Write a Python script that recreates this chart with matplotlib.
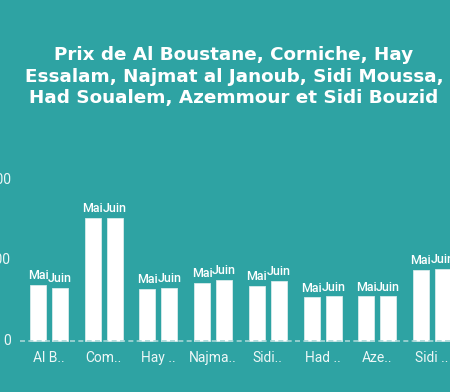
import matplotlib
matplotlib.use("Agg")
import matplotlib.pyplot as plt
import matplotlib.transforms as mtrans
import numpy as np

categories = ["Al B..", "Com..", "Hay ..", "Najma..", "Sidi..", "Had ..", "Aze..", "Sidi .."]
series_names = ["Mai", "Juin"]
mai = [700, 1528, 650, 724, 683, 543, 555, 882]
juin = [662, 1528, 658, 758, 749, 555, 553, 894]
yticks = [0, 1000, 2000]
ytick_labels = ["0", "1000", "2000"]
title_lines = ["Prix de Al Boustane, Corniche, Hay",
               "Essalam, Najmat al Janoub, Sidi Moussa,",
               "Had Soualem, Azemmour et Sidi Bouzid"]

BG = "#2EA3A3"
W, H = 450, 392
fig = plt.figure(figsize=(W / 100, H / 100), dpi=100, facecolor=BG)

# axes from zero line (y px 341) up to y px 160
top_px, zero_px = 160, 341
ax = fig.add_axes([0, (H - zero_px) / H, 1, (zero_px - top_px) / H])
ax.set_facecolor(BG)
for s in ax.spines.values():
    s.set_visible(False)

px_per_group = 54.7
x0 = 49.0
ax.set_xlim((0 - x0) / px_per_group, (W - x0) / px_per_group)
units_per_px = 1000 / 80.5
ax.set_ylim(0, (zero_px - top_px) * units_per_px)

x = np.arange(len(categories))
bw = 16 / px_per_group
off = 11 / px_per_group
b1 = ax.bar(x - off, mai, width=bw, color="white", edgecolor="#d8ecec", linewidth=0.6, clip_on=False)
b2 = ax.bar(x + off, juin, width=bw, color="white", edgecolor="#d8ecec", linewidth=0.6, clip_on=False)

for bars, name in ((b1, series_names[0]), (b2, series_names[1])):
    for r in bars:
        ax.annotate(name, (r.get_x() + r.get_width() / 2, r.get_height()),
                    xytext=(0, 2), textcoords="offset points", ha="center", va="bottom",
                    color="white", fontsize=9, fontweight="medium", family="Roboto")

# zero dashed line
ax.axhline(0, xmin=20 / W, xmax=1, color="#a6d6d6", linestyle=(0, (3, 2)),
           linewidth=1.2, clip_on=False, zorder=3)

ax.set_xticks(x)
ax.set_xticklabels(categories, color="#eef7f7", fontsize=10, family="Roboto")
ax.tick_params(axis="x", length=0, pad=7)
ax.set_yticks([])

trans = mtrans.blended_transform_factory(fig.transFigure, ax.transData)
for v, lab in zip(yticks, ytick_labels):
    ax.text(11 / W, v, lab, transform=trans, ha="right", va="center",
            color="#eef7f7", fontsize=10, family="Roboto", clip_on=False)

ys = [55, 77, 98]
for line, yy in zip(title_lines, ys):
    fig.text(234 / W, 1 - yy / H, line, ha="center", va="center", color="white",
             fontsize=13.2, fontweight="bold", family="DejaVu Sans")

fig.savefig("out.png", dpi=100, facecolor=BG)
